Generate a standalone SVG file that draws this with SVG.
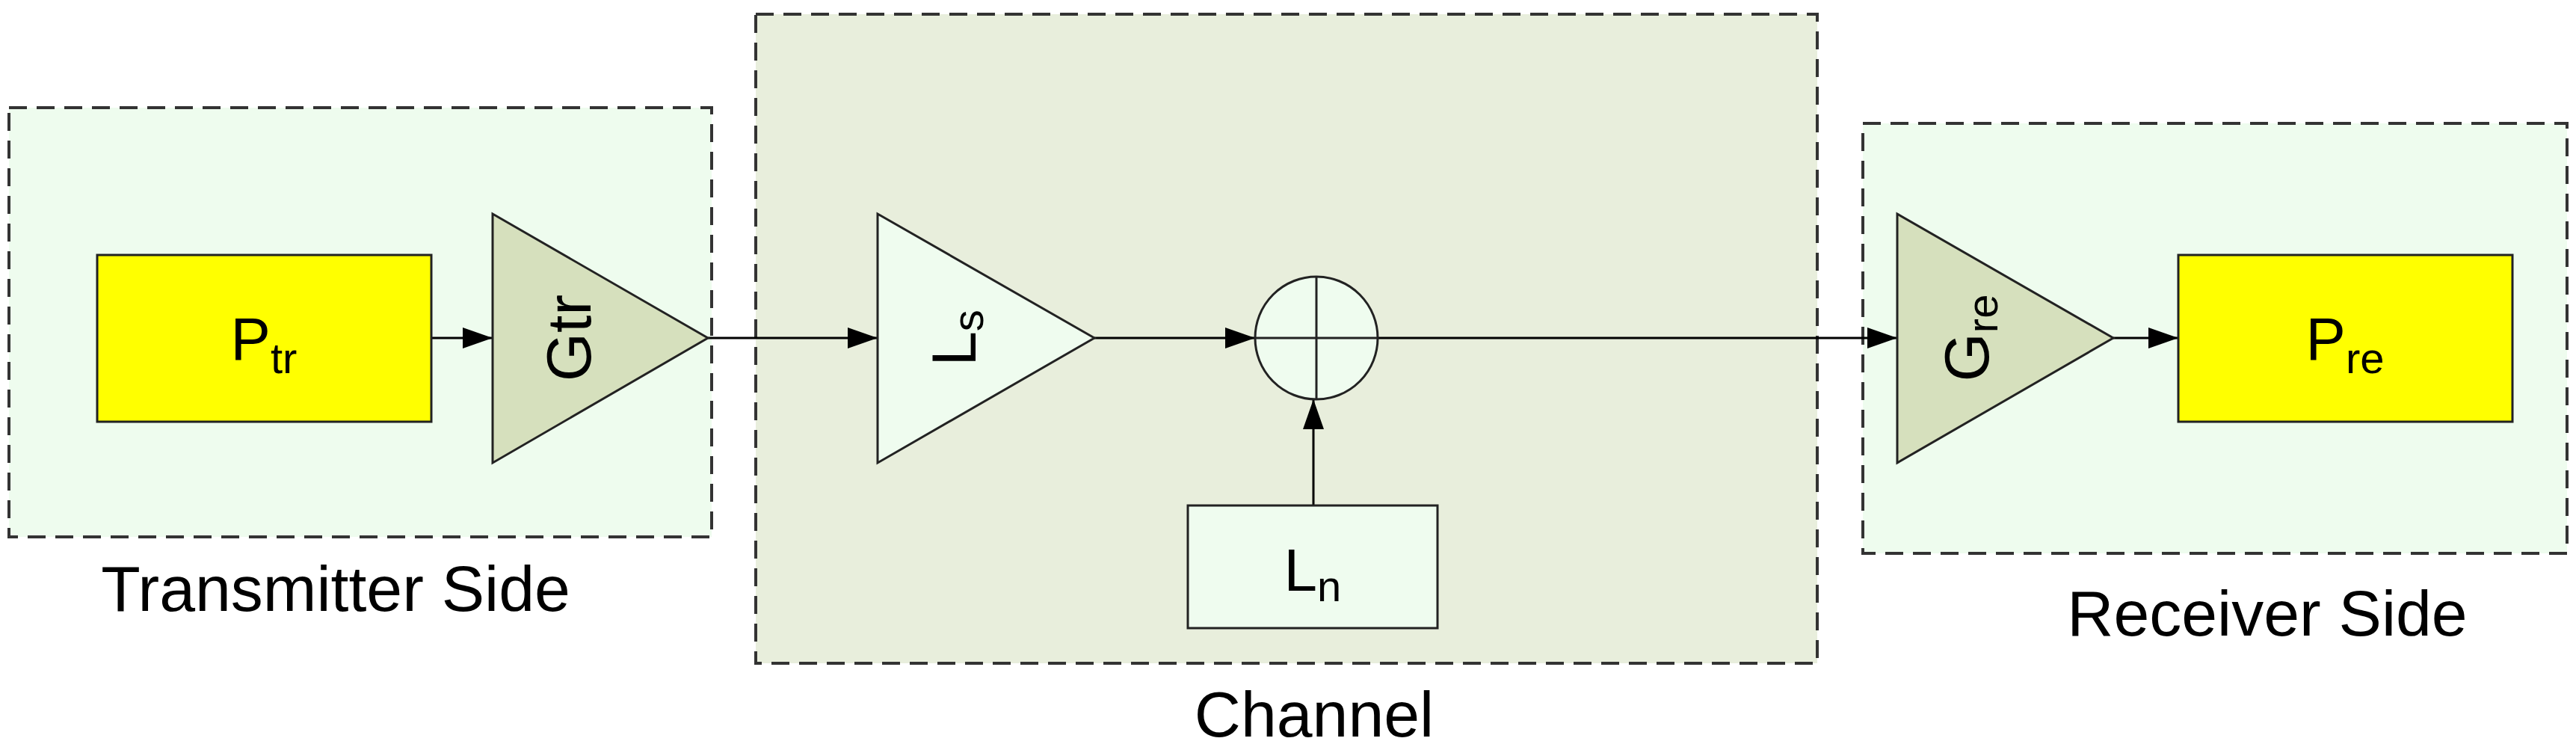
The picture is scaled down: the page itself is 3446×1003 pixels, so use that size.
<svg xmlns="http://www.w3.org/2000/svg" width="3446" height="1003" viewBox="0 0 3446 1003">
<style>
.grp{stroke:#333;stroke-width:4;stroke-dasharray:24 13}
.blk{stroke:#222;stroke-width:3}
.t{font-family:"Liberation Sans",Arial,sans-serif;fill:#000}
.c{stroke:#000;stroke-width:3;fill:none}
</style>
<defs>
<marker id="a" viewBox="0 0 40 28" refX="40" refY="14" markerWidth="40" markerHeight="28" markerUnits="userSpaceOnUse" orient="auto"><path d="M0,0 L40,14 L0,28 z" fill="#000"/></marker>
</defs>
<rect width="3446" height="1003" fill="#fff"/>
<g id="transmitter-side">
<rect class="grp" x="12" y="144" width="940" height="574" fill="#eefcee"/>
<text class="t" x="449" y="817" font-size="86" text-anchor="middle">Transmitter Side</text>
</g>
<g id="channel">
<rect class="grp" x="1011" y="19" width="1420" height="868" fill="#e8eedc"/>
<text class="t" x="1758" y="985" font-size="86" text-anchor="middle">Channel</text>
</g>
<g id="receiver-side">
<rect class="grp" x="2492" y="165" width="942" height="575" fill="#eefcee"/>
<text class="t" x="3033" y="850" font-size="86" text-anchor="middle">Receiver Side</text>
</g>
<g id="connectors">
<line class="c" x1="577" y1="452" x2="659" y2="452" marker-end="url(#a)"/>
<line class="c" x1="947" y1="452" x2="1174" y2="452" marker-end="url(#a)"/>
<line class="c" x1="1464" y1="452" x2="1679" y2="452" marker-end="url(#a)"/>
<line class="c" x1="1843" y1="452" x2="2538" y2="452" marker-end="url(#a)"/>
<line class="c" x1="2827" y1="452" x2="2914" y2="452" marker-end="url(#a)"/>
<line class="c" x1="1757" y1="676" x2="1757" y2="534" marker-end="url(#a)"/>
</g>
<g id="ptr">
<rect class="blk" x="130" y="341" width="447" height="223" fill="#ffff00"/>
<text class="t" x="353" y="481" font-size="80" text-anchor="middle">P<tspan font-size="58" dy="18">tr</tspan></text>
</g>
<g id="gtr">
<polygon class="blk" points="659,286 947,452 659,619" fill="#d6e0bd"/>
<text class="t" transform="translate(790,452) rotate(-90)" font-size="84" text-anchor="middle">Gtr</text>
</g>
<g id="ls">
<polygon class="blk" points="1174,286 1464,452 1174,619" fill="#effcef"/>
<text class="t" transform="translate(1305,452) rotate(-90)" font-size="84" text-anchor="middle">L<tspan font-size="58" dy="10">s</tspan></text>
</g>
<g id="sum">
<circle class="blk" cx="1761" cy="452" r="82" fill="#effcef"/>
<line class="blk" x1="1761" y1="370" x2="1761" y2="534"/>
<line class="blk" x1="1679" y1="452" x2="1843" y2="452"/>
</g>
<g id="ln">
<rect class="blk" x="1589" y="676" width="334" height="164" fill="#effcef"/>
<text class="t" x="1756" y="790" font-size="80" text-anchor="middle">L<tspan font-size="58" dy="14">n</tspan></text>
</g>
<g id="gre">
<polygon class="blk" points="2538,286 2827,452 2538,619" fill="#d6e0bd"/>
<text class="t" transform="translate(2660,452) rotate(-90)" font-size="84" text-anchor="middle">G<tspan font-size="58" dy="12">re</tspan></text>
</g>
<g id="pre">
<rect class="blk" x="2914" y="341" width="447" height="223" fill="#ffff00"/>
<text class="t" x="3137" y="481" font-size="80" text-anchor="middle">P<tspan font-size="58" dy="18">re</tspan></text>
</g>
</svg>
